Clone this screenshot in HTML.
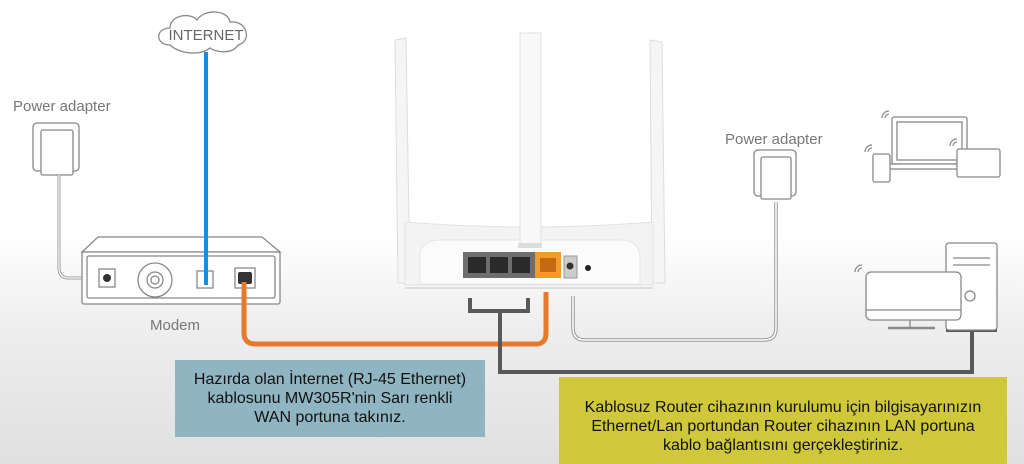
<!DOCTYPE html>
<html><head><meta charset="utf-8"><style>
html,body{margin:0;padding:0;width:1024px;height:464px;overflow:hidden;font-family:"Liberation Sans",sans-serif}
.bg{position:absolute;left:0;top:0;width:1024px;height:464px;background:linear-gradient(#fff 0%,#fff 50%,#ededed 72%,#e0e0e0 100%)}
svg{position:absolute;left:0;top:0}
.box{position:absolute;text-align:center;color:#111;font-size:16px;line-height:19px;box-sizing:border-box}
</style></head><body>
<div class="bg"></div>
<svg width="1024" height="464" viewBox="0 0 1024 464">
<g fill="none" stroke="#888" stroke-width="1.3">
<path d="M170 45 C155 45 155 28 170 28 C170 15 190 12 197 20 C205 8 228 10 230 22 C248 20 252 42 238 45 C232 55 215 52 210 48 C200 56 180 54 170 45 Z" fill="#fff"/>
</g>
<text x="206" y="40" font-size="15" fill="#666" text-anchor="middle" font-family="Liberation Sans Narrow, Liberation Sans, sans-serif">INTERNET</text>
<!-- left adapter -->
<text x="13" y="111" font-size="15" fill="#777">Power adapter</text>
<g fill="#fff" stroke="#888" stroke-width="1.3">
<rect x="33" y="123" width="46" height="48" rx="4"/>
<rect x="41" y="130" width="32" height="45" rx="2"/>
</g>
<path d="M59 175 V268 Q59 278 69 278 H100" fill="none" stroke="#999" stroke-width="3"/>
<path d="M59 175 V268 Q59 278 69 278 H100" fill="none" stroke="#fff" stroke-width="1.2"/>
<!-- modem -->
<g fill="#fff" stroke="#888" stroke-width="1.3">
<path d="M82 252 L98 237 H262 L280 252 Z"/>
<rect x="82" y="252" width="198" height="52" rx="2"/>
<rect x="87" y="256" width="188" height="42" rx="2"/>
<rect x="99" y="269" width="16" height="18"/>
<circle cx="155" cy="280" r="17"/><circle cx="155" cy="280" r="8"/><circle cx="155" cy="280" r="4"/>
<rect x="197" y="271" width="16" height="17"/>
<rect x="235" y="268" width="20" height="20"/>
</g>
<line x1="206" y1="52" x2="206" y2="285" stroke="#1a8fd6" stroke-width="4"/>
<circle cx="107" cy="278" r="4" fill="#333"/>
<rect x="238" y="272" width="14" height="12" rx="2" fill="#333"/>
<text x="150" y="330" font-size="15" fill="#777">Modem</text>
<!-- orange cable -->
<path d="M244 282 V333 Q244 344 256 344 H536 Q546 344 546 333 V292" fill="none" stroke="#e8782a" stroke-width="5"/>
<!-- router antennas -->
<g fill="#f5f5f5" stroke="#ddd" stroke-width="1">
<path d="M395 40 L406 38 L410 283 L398 283 Z"/>
<path d="M650 40 L662 42 L665 283 L652 283 Z"/>
</g>
<path d="M405 222 Q530 232 653 222 V285 H405 Z" fill="#f3f3f3" stroke="#e2e2e2"/>
<path d="M420 252 Q424 240 440 240 H620 Q640 240 640 258 V284 H420 Z" fill="#fbfbfb" stroke="#e6e6e6"/>
<rect x="520" y="33" width="21" height="213" fill="#f8f8f8" stroke="#e0e0e0"/>
<rect x="518" y="243" width="24" height="5" fill="#ddd"/>
<rect x="463" y="252" width="72" height="26" fill="#6e6e6e"/>
<g fill="#2a2a2a"><rect x="468" y="257" width="18" height="16"/><rect x="490" y="257" width="18" height="16"/><rect x="512" y="257" width="18" height="16"/></g>
<rect x="535" y="252" width="26" height="26" fill="#f39a2c"/>
<rect x="540" y="258" width="16" height="14" fill="#c46a10"/>
<rect x="564" y="256" width="13" height="22" fill="#ccc" stroke="#999"/>
<circle cx="570" cy="266" r="3.5" fill="#333"/>
<circle cx="588" cy="268" r="3" fill="#222"/>
<line x1="405" y1="288" x2="653" y2="288" stroke="#ddd" stroke-width="2"/>
<!-- LAN cable -->
<g fill="none" stroke="#595959" stroke-width="4">
<path d="M470 298 V311 H528 V298"/>
<path d="M500 311 V372 H972 V330"/>
<path d="M946 330 H997"/>
</g>
<!-- router power cord -->
<path d="M573 296 V328 Q573 340 585 340 H764 Q776 340 776 328 V202" fill="none" stroke="#999" stroke-width="3.5"/>
<path d="M573 296 V328 Q573 340 585 340 H764 Q776 340 776 328 V202" fill="none" stroke="#fff" stroke-width="1.5"/>
<text x="725" y="144" font-size="15" fill="#777">Power adapter</text>
<g fill="#fff" stroke="#888" stroke-width="1.3">
<rect x="754" y="150" width="42" height="46" rx="4"/>
<rect x="761" y="157" width="30" height="42" rx="2"/>
<rect x="892" y="117" width="75" height="47" rx="2"/>
<rect x="897" y="122" width="65" height="38"/>
<rect x="880" y="164" width="90" height="5"/>
<rect x="873" y="154" width="17" height="28" rx="2"/>
<rect x="957" y="149" width="43" height="28" rx="2"/>
<rect x="946" y="243" width="51" height="87" rx="3"/>
<line x1="953" y1="258" x2="990" y2="258"/><line x1="953" y1="265" x2="990" y2="265"/>
<rect x="866" y="272" width="95" height="48" rx="5"/>
<line x1="866" y1="310" x2="961" y2="310"/>
<circle cx="970" cy="296" r="5"/>
<line x1="910" y1="320" x2="910" y2="328"/><line x1="888" y1="328" x2="935" y2="328" stroke-width="2.5"/>
</g>
<g fill="none" stroke="#888" stroke-width="1.2">
<path d="M885 118 a4 4 0 0 1 4 -4 M882 118 a7 7 0 0 1 7 -7"/>
<path d="M868 152 a4 4 0 0 1 4 -4 M865 152 a7 7 0 0 1 7 -7"/>
<path d="M953 146 a4 4 0 0 1 4 -4 M950 146 a7 7 0 0 1 7 -7"/>
<path d="M858 272 a4 4 0 0 1 4 -4 M855 272 a7 7 0 0 1 7 -7"/>
</g>
</svg>
<div class="box" style="left:175px;top:360px;width:310px;height:77px;background:#8fb4c2;padding-top:10px">Hazırda olan İnternet (RJ-45 Ethernet)<br>kablosunu MW305R'nin Sarı renkli<br>WAN portuna takınız.</div>
<div class="box" style="left:559px;top:377px;width:448px;height:87px;background:#cfc83a;padding-top:21px">Kablosuz Router cihazının kurulumu için bilgisayarınızın<br>Ethernet/Lan portundan Router cihazının LAN portuna<br>kablo bağlantısını gerçekleştiriniz.</div>
</body></html>
